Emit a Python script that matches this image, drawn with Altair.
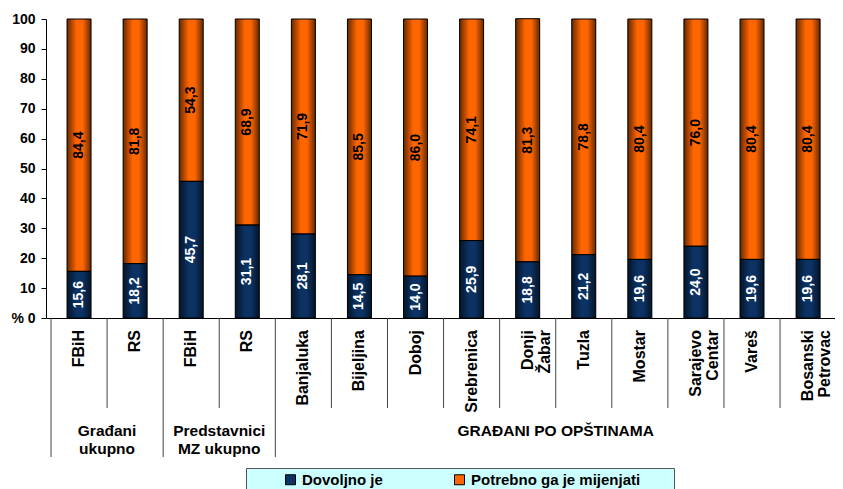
import altair as alt
import pandas as pd

categories = ["FBiH", "RS", "FBiH", "RS", "Banjaluka", "Bijeljina", "Doboj",
              "Srebrenica", "Donji\nŽabar", "Tuzla", "Mostar", "Sarajevo\nCentar",
              "Vareš", "Bosanski\nPetrovac"]
dovoljno = [15.6, 18.2, 45.7, 31.1, 28.1, 14.5, 14.0, 25.9, 18.8, 21.2, 19.6, 24.0, 19.6, 19.6]
potrebno = [84.4, 81.8, 54.3, 68.9, 71.9, 85.5, 86.0, 74.1, 81.3, 78.8, 80.4, 76.0, 80.4, 80.4]
series_names = ["Dovoljno je", "Potrebno ga je mijenjati"]
series_colors = ["#0b3263", "#ff6600"]
group_labels = ["Građani\nukupno", "Predstavnici\nMZ ukupno", "GRAĐANI PO OPŠTINAMA"]
group_start = [0, 2, 4]
group_end = [2, 4, 14]
y_ticks = list(range(0, 101, 10))

FONT = "Liberation Sans"
STEP = 56.8              # pixel width of one category slot
W, H = 789, 299          # plot area
X_MAX = W / STEP


def fmt(v):
    return f"{v:.1f}".replace(".", ",")


rows = []
for i, (d, p) in enumerate(zip(dovoljno, potrebno)):
    rows.append(dict(pos=i + 0.5, series=series_names[0], start=0.0, end=d,
                     mid=d / 2, label=fmt(d)))
    rows.append(dict(pos=i + 0.5, series=series_names[1], start=d, end=d + p,
                     mid=d + p / 2, label=fmt(p)))
bars_df = pd.DataFrame(rows)

cat_df = pd.DataFrame({"pos": [i + 0.5 for i in range(len(categories))],
                       "label": categories})
grp_df = pd.DataFrame({"center": [(a + b) / 2 for a, b in zip(group_start, group_end)],
                       "label": group_labels})
bounds = sorted(set(group_start + group_end))
long_df = pd.DataFrame({"k": bounds})
short_df = pd.DataFrame({"k": [k for k in range(len(categories) + 1) if k not in bounds]})

xscale = alt.Scale(domain=[0, X_MAX], nice=False, zero=False)
yscale = alt.Scale(domain=[0, 100], nice=False)

x_axis = alt.Axis(labels=False, ticks=False, grid=False, title=None, domainColor="black")
y_axis = alt.Axis(values=y_ticks, grid=False, title=None, labelOverlap=False,
                  labelExpr="datum.value == 0 ? '% 0' : datum.label",
                  tickSize=5, labelPadding=6, domainColor="black",
                  tickColor="black", labelColor="black", labelFont=FONT,
                  labelFontSize=14, labelFontWeight="bold")


def X(field):
    return alt.X(field, scale=xscale, axis=x_axis)


def Y(field):
    return alt.Y(field, scale=yscale, axis=y_axis)


pad = "\u00a0" * 7 + "\u200b"
legend = alt.Legend(
    orient="none", legendX=200, legendY=449, direction="horizontal", columns=2,
    title=None, fillColor="#ccffff", strokeColor="#555555", padding=4,
    symbolOffset=33, columnPadding=36, labelOffset=4, symbolType="square",
    symbolSize=100, symbolStrokeColor="black", symbolStrokeWidth=1,
    labelFont=FONT, labelFontSize=15, labelFontWeight="bold", labelColor="black",
    labelLimit=400,
    labelExpr=f"indexof(datum.label, 'Potrebno') >= 0 ? datum.label + '{pad}' : datum.label",
)

bars = alt.Chart(bars_df).mark_bar(width=24).encode(
    x=X("pos:Q"), y=Y("start:Q"), y2="end:Q",
    color=alt.Color("series:N", scale=alt.Scale(domain=series_names, range=series_colors),
                    legend=legend),
)

gradient = {
    "gradient": "linear", "x1": 0, "x2": 1, "y1": 0, "y2": 0,
    "stops": [
        {"offset": 0, "color": "rgba(0,0,0,0.6)"},
        {"offset": 0.4, "color": "rgba(0,0,0,0)"},
        {"offset": 0.65, "color": "rgba(0,0,0,0)"},
        {"offset": 1, "color": "rgba(0,0,0,0.6)"},
    ],
}
shade = alt.Chart(bars_df).mark_bar(width=24, fill=gradient, stroke="black",
                                    strokeWidth=1).encode(
    x=X("pos:Q"), y=Y("start:Q"), y2="end:Q",
)

values = alt.Chart(bars_df).mark_text(angle=270, align="center", baseline="middle",
                                      font=FONT, fontSize=14, fontWeight="bold").encode(
    x=X("pos:Q"), y=Y("mid:Q"), text="label:N",
    color=alt.when(alt.datum.series == series_names[0])
             .then(alt.value("white")).otherwise(alt.value("black")),
)

short_rules = alt.Chart(short_df).mark_rule(color="#444444", strokeWidth=1).encode(
    x=X("k:Q"), y=alt.value(H), y2=alt.value(H + 90),
)
long_rules = alt.Chart(long_df).mark_rule(color="#444444", strokeWidth=1).encode(
    x=X("k:Q"), y=alt.value(H), y2=alt.value(H + 139),
)

cat_text = alt.Chart(cat_df).mark_text(angle=270, align="right", baseline="middle",
                                       lineBreak="\n", lineHeight=17, font=FONT,
                                       fontSize=16, fontWeight="bold",
                                       color="black").encode(
    x=X("pos:Q"), y=alt.value(H + 12), text="label:N",
)

grp_text = alt.Chart(grp_df).mark_text(align="center", baseline="alphabetic",
                                       lineBreak="\n", lineHeight=18, font=FONT,
                                       fontSize=15.5, fontWeight="bold",
                                       color="black").encode(
    x=X("center:Q"), y=alt.value(H + 118), text="label:N",
)

chart = alt.layer(bars, shade, values, short_rules, long_rules, cat_text, grp_text).properties(
    width=W, height=H,
    autosize=alt.AutoSizeParams(type="none"),
    padding={"left": 38, "top": 11, "right": 0, "bottom": 172},
).configure_view(stroke=None)

chart.save("out.html", embed_options={"renderer": "svg", "actions": False})
